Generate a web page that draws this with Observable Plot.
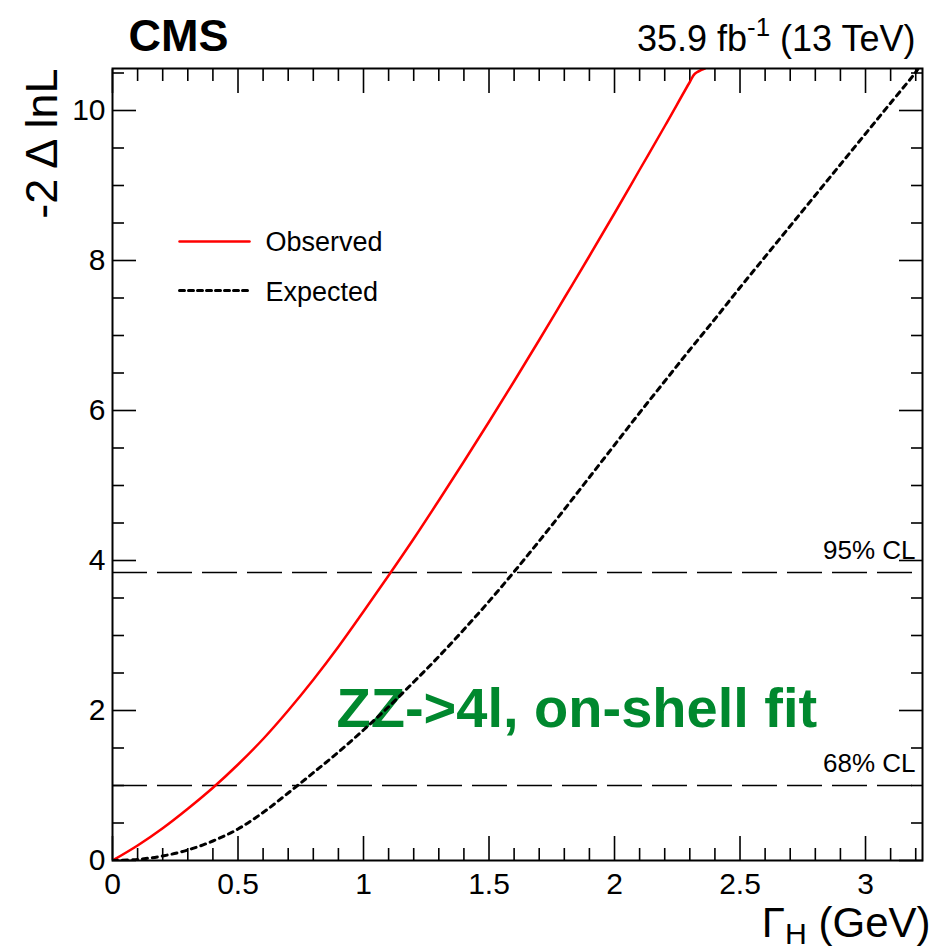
<!DOCTYPE html>
<html>
<head>
<meta charset="utf-8">
<script src="https://cdn.jsdelivr.net/npm/d3@7"></script>
<script src="https://cdn.jsdelivr.net/npm/@observablehq/plot@0.6"></script>
<style>
  html, body { margin: 0; padding: 0; background: white; }
  #chart { width: 936px; height: 951px; }
</style>
</head>
<body>
<div id="chart"></div>
<script>
// ---- data ----
const obsGamma = [0, 0.1, 0.2, 0.3, 0.4, 0.5, 0.6, 0.7, 0.8, 0.9, 1.0, 1.1, 1.2, 1.3, 1.4, 1.5, 1.6, 1.7, 1.8, 1.9, 2.0, 2.1, 2.2, 2.3, 2.32, 2.36];
const obsValue = [0, 0.2, 0.43, 0.69, 0.97, 1.28, 1.62, 2.0, 2.41, 2.85, 3.32, 3.8, 4.29, 4.8, 5.32, 5.85, 6.39, 6.94, 7.5, 8.06, 8.63, 9.21, 9.79, 10.38, 10.49, 10.56];

const expGamma = [0, 0.1, 0.2, 0.3, 0.4, 0.5, 0.6, 0.7, 0.8, 0.9, 1.0, 1.1, 1.2, 1.3, 1.4, 1.5, 1.6, 1.7, 1.8, 1.9, 2.0, 2.1, 2.2, 2.3, 2.4, 2.5, 2.6, 2.7, 2.8, 2.9, 3.0, 3.1, 3.2, 3.21];
const expValue = [0, 0.015, 0.06, 0.14, 0.26, 0.42, 0.64, 0.9, 1.17, 1.445, 1.74, 2.05, 2.38, 2.72, 3.08, 3.455, 3.85, 4.26, 4.68, 5.11, 5.54, 5.97, 6.39, 6.81, 7.22, 7.64, 8.05, 8.46, 8.87, 9.28, 9.69, 10.1, 10.51, 10.56];

const clLevels = [1, 3.84];
const clLabels = ["68% CL", "95% CL"];

const xMajorTicks = [0, 0.5, 1, 1.5, 2, 2.5, 3];
const xMinorTicks = [0.1, 0.2, 0.3, 0.4, 0.6, 0.7, 0.8, 0.9, 1.1, 1.2, 1.3, 1.4, 1.6, 1.7, 1.8, 1.9, 2.1, 2.2, 2.3, 2.4, 2.6, 2.7, 2.8, 2.9, 3.1, 3.2];
const yMajorTicks = [0, 2, 4, 6, 8, 10];
const yMinorTicks = [0.5, 1, 1.5, 2.5, 3, 3.5, 4.5, 5, 5.5, 6.5, 7, 7.5, 8.5, 9, 9.5, 10.5];

const legendLabels = ["Observed", "Expected"];
const xTitle = "Γ_{H} (GeV)";
const yTitle = "-2 Δ lnL";
const expLabel = "CMS";
const lumiLabel = "35.9 fb^{-1} (13 TeV)";
const annotation = "ZZ->4l, on-shell fit";

const xDomain = [0, 3.227];
const yDomain = [0, 10.56];

// ---- build ----
const observed = obsGamma.map((g, i) => ({g, v: obsValue[i]}));
const expected = expGamma.map((g, i) => ({g, v: expValue[i]}));

const FONT = "'Liberation Sans', Arial, Helvetica, sans-serif";
const lineShape = { draw(context, l) { context.moveTo(0, 0); context.lineTo(0, -l); } };
const fmt = d => String(d);

const tickStyle = {stroke: "black", strokeWidth: 1.6, fill: "none", label: null};

const chart = Plot.plot({
  width: 936,
  height: 951,
  marginLeft: 112,
  marginRight: 14,
  marginTop: 68,
  marginBottom: 91,
  style: {fontFamily: FONT, background: "white", color: "black"},
  x: {domain: xDomain},
  y: {domain: yDomain},
  marks: [
    // inward ticks on all four sides
    Plot.axisX(xMajorTicks, {anchor: "bottom", tickSize: -24, ...tickStyle}),
    Plot.axisX(xMinorTicks, {anchor: "bottom", tickSize: -12, ...tickStyle}),
    Plot.axisX(xMajorTicks, {anchor: "top", tickSize: -24, ...tickStyle}),
    Plot.axisX(xMinorTicks, {anchor: "top", tickSize: -12, ...tickStyle}),
    Plot.axisY(yMajorTicks, {anchor: "left", tickSize: -24, ...tickStyle}),
    Plot.axisY(yMinorTicks, {anchor: "left", tickSize: -12, ...tickStyle}),
    Plot.axisY(yMajorTicks, {anchor: "right", tickSize: -24, ...tickStyle}),
    Plot.axisY(yMinorTicks, {anchor: "right", tickSize: -12, ...tickStyle}),
    // tick labels
    Plot.axisX(xMajorTicks, {anchor: "bottom", tickSize: 0, tickPadding: 12, fontSize: 30, label: null, fill: "black", tickFormat: fmt}),
    Plot.axisY(yMajorTicks, {anchor: "left", tickSize: 0, tickPadding: 7, fontSize: 30, label: null, fill: "black", tickFormat: fmt}),
    // confidence-level lines and labels
    Plot.ruleY(clLevels, {stroke: "black", strokeWidth: 1.5, strokeDasharray: "35 10"}),
    Plot.text(clLevels, {y: d => d, text: (d, i) => clLabels[i], frameAnchor: "right", lineAnchor: "middle", dx: -7, dy: -22, textAnchor: "end", fontSize: 26, fill: "black"}),
    // annotation
    Plot.text([annotation], {frameAnchor: "top-left", lineAnchor: "middle", dx: 224, dy: 641, textAnchor: "start", fontSize: 56, fontWeight: "bold", fill: "#00882e"}),
    // curves
    Plot.line(observed, {x: "g", y: "v", stroke: "#ff0000", strokeWidth: 2.5, curve: "catmull-rom", clip: true}),
    Plot.line(expected, {x: "g", y: "v", stroke: "black", strokeWidth: 3, strokeDasharray: "5 5", curve: "catmull-rom", clip: true}),
    // legend
    Plot.vector([legendLabels[0]], {frameAnchor: "top-left", dx: 67, dy: 173, length: 70, rotate: 90, anchor: "start", shape: lineShape, stroke: "#ff0000", strokeWidth: 2.5}),
    Plot.vector([legendLabels[1]], {frameAnchor: "top-left", dx: 67, dy: 222, length: 70, rotate: 90, anchor: "start", shape: lineShape, stroke: "black", strokeWidth: 3, strokeDasharray: "5 4"}),
    Plot.text([legendLabels[0]], {frameAnchor: "top-left", lineAnchor: "middle", dx: 153, dy: 174, textAnchor: "start", fontSize: 27, fill: "black"}),
    Plot.text([legendLabels[1]], {frameAnchor: "top-left", lineAnchor: "middle", dx: 153, dy: 224, textAnchor: "start", fontSize: 27, fill: "black"}),
    // titles
    Plot.text([expLabel], {frameAnchor: "top-left", lineAnchor: "middle", dx: 16, dy: -32, textAnchor: "start", fontSize: 45, fontWeight: "bold", fill: "black"}),
    Plot.text([lumiLabel], {frameAnchor: "top-right", lineAnchor: "middle", dx: -7, dy: -29, textAnchor: "end", fontSize: 36, fill: "black"}),
    Plot.text([xTitle], {frameAnchor: "bottom-right", lineAnchor: "middle", dx: 8, dy: 63, textAnchor: "end", fontSize: 42, fill: "black"}),
    Plot.text([yTitle], {frameAnchor: "top-left", lineAnchor: "middle", dx: -70, dy: 0, rotate: -90, textAnchor: "end", fontSize: 45, fill: "black"}),
    Plot.frame({stroke: "black", strokeWidth: 2})
  ]
});

// turn ^{..} and _{..} into super/subscripts
d3.select(chart).selectAll("text").each(function() {
  const el = this;
  const s = el.textContent;
  if (!/[\^_]\{/.test(s)) return;
  const fs = parseFloat(el.getAttribute("font-size")) || parseFloat(el.parentNode.getAttribute("font-size")) || 30;
  el.textContent = "";
  const re = /([\^_])\{([^}]*)\}/g;
  let last = 0, m, shift = 0;
  const add = (txt, dy, small) => {
    const t = document.createElementNS("http://www.w3.org/2000/svg", "tspan");
    t.textContent = txt;
    if (dy) t.setAttribute("dy", dy);
    if (small) t.setAttribute("font-size", small);
    el.appendChild(t);
  };
  while ((m = re.exec(s))) {
    if (m.index > last) { add(s.slice(last, m.index), -shift, null); shift = 0; }
    const d = m[1] === "^" ? -0.42 * fs : 0.16 * fs;
    add(m[2], d, 0.72 * fs);
    shift = d;
    last = re.lastIndex;
  }
  if (last < s.length) add(s.slice(last), -shift, null);
});

document.getElementById("chart").appendChild(chart);
</script>
</body>
</html>
